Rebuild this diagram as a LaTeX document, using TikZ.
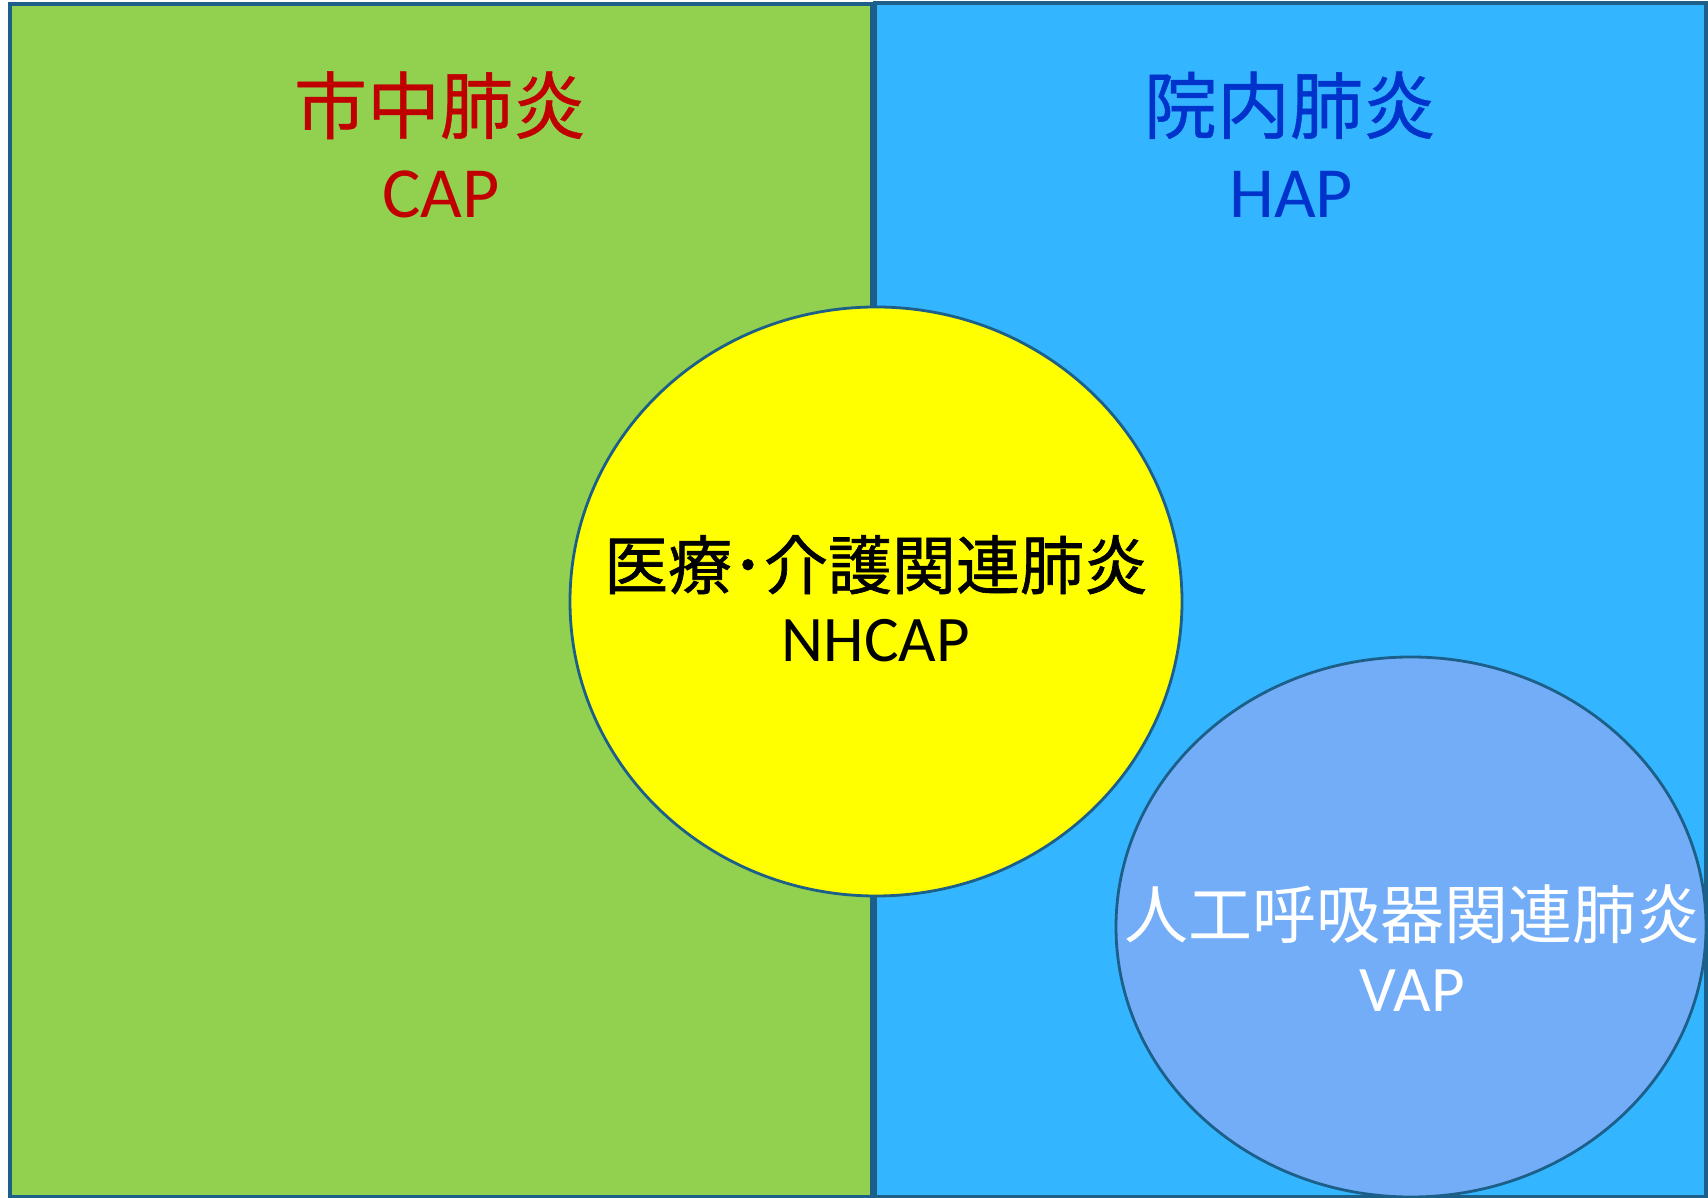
\documentclass[tikz,border=0pt]{standalone}
\usepackage{fontspec}
\setmainfont{Carlito}
\newfontfamily\cjk{Noto Sans CJK JP}
\newfontfamily\cjkb[FakeBold=1.0]{Noto Sans CJK JP}
\newfontfamily\cjkm[FakeBold=0.6]{Noto Sans CJK JP}
\usetikzlibrary{shapes.geometric}
\definecolor{cgreen}{HTML}{92D050}
\definecolor{cblue}{HTML}{33B5FF}
\definecolor{cyel}{HTML}{FFFF00}
\definecolor{cvap}{HTML}{73ADF8}
\definecolor{cline}{HTML}{1C5F88}
\definecolor{cred}{HTML}{C00000}
\definecolor{cdblue}{HTML}{0033CC}
\tikzset{
  region/.style={draw=cline, line width=3.5pt, inner sep=0pt, outer sep=0pt},
  oval/.style={ellipse, draw=cline, line width=2.8pt, inner sep=0pt},
  bigcjk/.style={inner sep=0pt, anchor=base, font=\cjkm\fontsize{73}{80}\selectfont},
  biglat/.style={inner sep=0pt, anchor=base, font=\fontsize{72}{80}\selectfont},
  midcjk/.style={inner sep=0pt, anchor=base, font=\cjk\fontsize{64}{72}\selectfont},
  midcjkb/.style={inner sep=0pt, anchor=base, font=\cjkb\fontsize{64}{72}\selectfont},
  midlat/.style={inner sep=0pt, anchor=base, font=\fontsize{65}{72}\selectfont},
}
\begin{document}
\begin{tikzpicture}[x=1pt,y=1pt]
\useasboundingbox (0,0) rectangle (1708,1198);
% regions
\node[region, fill=cgreen, minimum width=862pt, minimum height=1193pt, anchor=south west] (cap) at (10,1) {};
\node[region, fill=cblue, minimum width=831pt, minimum height=1194pt, anchor=south west] (hap) at (875,1) {};
% ovals
\node[oval, fill=cvap, minimum width=590pt, minimum height=540pt] (vap) at (1411,271) {};
\node[oval, fill=cyel, minimum width=612pt, minimum height=589pt] (nh) at (876,596.5) {};
% titles
\node[bigcjk, text=cred] (capj) at (440,1065) {市中肺炎};
\node[biglat, text=cred] (cape) at (441,980) {CAP};
\node[bigcjk, text=cdblue] (hapj) at (1290,1065) {院内肺炎};
\node[biglat, text=cdblue] (hape) at (1291,980) {HAP};
% inner labels
\node[midcjkb, text=black] (nhj) at (876,609) {医療･介護関連肺炎};
\node[midlat, text=black] (nhe) at (876,536) {NHCAP};
\node[midcjk, text=white] (vapj) at (1412,259) {人工呼吸器関連肺炎};
\node[midlat, text=white] (vape) at (1412,186) {VAP};
\end{tikzpicture}
\end{document}
